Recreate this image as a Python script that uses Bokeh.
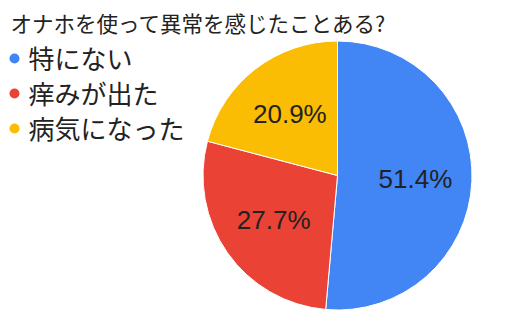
import math
from bokeh.plotting import figure
from bokeh.models import ColumnDataSource
from bokeh.core.properties import value
from bokeh.embed import file_html
from bokeh.resources import INLINE

# ---- data ----
title_text = "オナホを使って異常を感じたことある?"
categories = ["特にない", "痒みが出た", "病気になった"]
percents = [51.4, 27.7, 20.9]
palette = ["#4285F4", "#EA4335", "#FBBC04"]

W, H = 521, 320
p = figure(width=W, height=H, x_range=(0, W), y_range=(0, H),
           min_border=0, toolbar_location=None, output_backend="svg")
p.axis.visible = False
p.grid.visible = False
p.outline_line_color = None
p.background_fill_color = "white"
p.border_fill_color = "white"

# pie geometry (pixel space, y measured from bottom)
cx, cy, r = 337, H - 175, 134.5
total = sum(percents)
starts, ends, lx, ly, labels = [], [], [], [], []
a = math.pi / 2
for v in percents:
    span = 2 * math.pi * v / total
    starts.append(a)
    ends.append(a - span)
    mid = a - span / 2
    lx.append(cx + 0.58 * r * math.cos(mid))
    ly.append(cy + 0.58 * r * math.sin(mid))
    labels.append(f"{v:.1f}%")
    a -= span

src = ColumnDataSource(dict(start=starts, end=ends, color=palette,
                            lx=lx, ly=ly, label=labels))
p.wedge(x=cx, y=cy, radius=r, start_angle="start", end_angle="end",
        direction="clock", fill_color="color", line_color="white",
        line_width=1, source=src)
p.text(x="lx", y="ly", text="label", source=src, text_align="center",
       text_baseline="middle", text_font=value("Liberation Sans"),
       text_font_size="26px", text_color="#222222")

# title
p.text(x=[10], y=[H - 22], text=[title_text], text_align="left",
       text_baseline="middle", text_font=value("Noto Sans CJK JP"),
       text_font_size="21.5px", text_color="#222222")

# legend
n = len(categories)
leg = ColumnDataSource(dict(x=[14] * n, tx=[28] * n,
                            dy=[H - (58 + 35 * i) for i in range(n)],
                            ty=[H - (57 + 35 * i) for i in range(n)],
                            name=categories, color=palette))
p.scatter(x="x", y="dy", size=10, fill_color="color", line_color=None, source=leg)
p.text(x="tx", y="ty", text="name", source=leg, text_align="left",
       text_baseline="middle", text_font=value("Noto Sans CJK JP"),
       text_font_size="26px", text_color="#222222")

open("out.html", "w").write(file_html(p, INLINE))
